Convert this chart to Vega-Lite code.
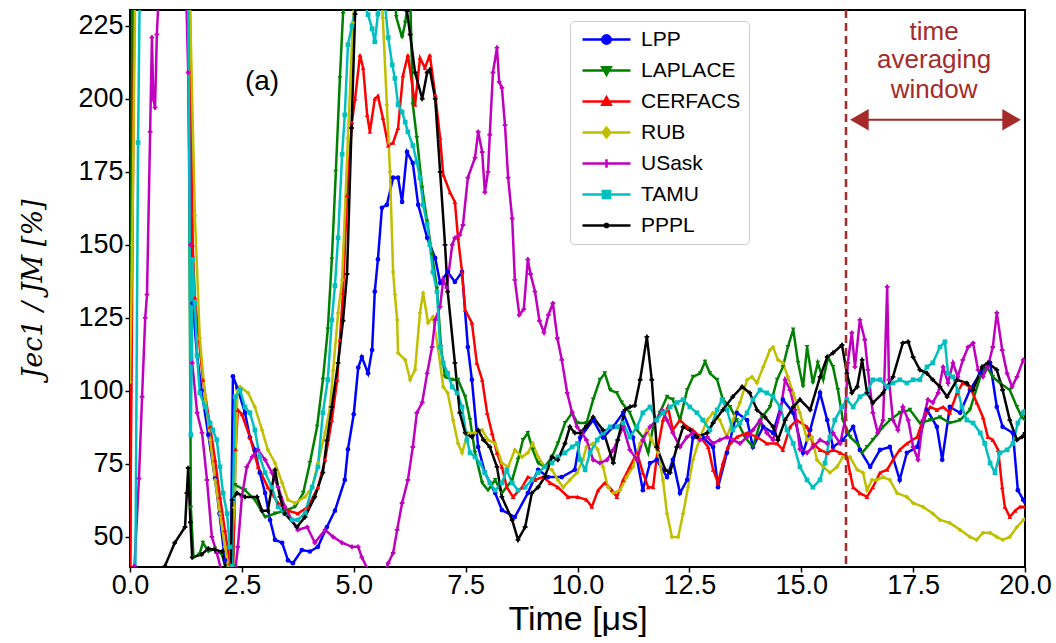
{
"$schema": "https://vega.github.io/schema/vega-lite/v6.json",
"width": 895, "height": 557,
"autosize": {"type": "none"},
"padding": {"left": 130, "top": 10, "right": 31, "bottom": 76},
"background": "white",
"config": {
  "font": "Liberation Sans",
  "view": {"stroke": "black", "strokeWidth": 2},
  "axis": {"labelFont": "Liberation Sans", "labelFontSize": 27, "labelColor": "black", "tickColor": "black", "tickSize": 5, "tickWidth": 1.5, "domain": false, "grid": false, "titleColor": "black", "labelPadding": 2}
},
"resolve": {"legend": {"color": "independent", "shape": "independent"}},
"datasets": {
"d": [
{"s":"LPP","x":0,"y":35},{"s":"LPP","x":0.07,"y":240},{"s":"LPP","x":1.33,"y":240},{"s":"LPP","x":1.4,"y":130},{"s":"LPP","x":1.5,"y":112},{"s":"LPP","x":1.6,"y":100},{"s":"LPP","x":1.75,"y":85},{"s":"LPP","x":1.9,"y":70},{"s":"LPP","x":2.0,"y":58},{"s":"LPP","x":2.12,"y":42},{"s":"LPP","x":2.25,"y":37},{"s":"LPP","x":2.3,"y":105},{"s":"LPP","x":2.4,"y":101},{"s":"LPP","x":2.57,"y":92.5},{"s":"LPP","x":2.68,"y":84},{"s":"LPP","x":2.79,"y":79.8},{"s":"LPP","x":2.9,"y":72},{"s":"LPP","x":3.02,"y":65},{"s":"LPP","x":3.13,"y":55.8},{"s":"LPP","x":3.24,"y":49},{"s":"LPP","x":3.4,"y":48},{"s":"LPP","x":3.53,"y":42},{"s":"LPP","x":3.64,"y":41},{"s":"LPP","x":3.84,"y":45.5},{"s":"LPP","x":4.02,"y":45},{"s":"LPP","x":4.2,"y":46.6},{"s":"LPP","x":4.4,"y":53.4},{"s":"LPP","x":4.58,"y":59},{"s":"LPP","x":4.8,"y":69.5},{"s":"LPP","x":4.87,"y":80},{"s":"LPP","x":5.0,"y":92},{"s":"LPP","x":5.1,"y":108},{"s":"LPP","x":5.18,"y":111.6},{"s":"LPP","x":5.32,"y":106},{"s":"LPP","x":5.41,"y":114},{"s":"LPP","x":5.47,"y":134},{"s":"LPP","x":5.54,"y":145},{"s":"LPP","x":5.63,"y":162.7},{"s":"LPP","x":5.74,"y":163.7},{"s":"LPP","x":5.88,"y":173},{"s":"LPP","x":5.99,"y":173},{"s":"LPP","x":6.08,"y":164.7},{"s":"LPP","x":6.19,"y":181.8},{"s":"LPP","x":6.32,"y":178},{"s":"LPP","x":6.44,"y":163.7},{"s":"LPP","x":6.64,"y":152.4},{"s":"LPP","x":6.82,"y":145.5},{"s":"LPP","x":6.93,"y":137},{"s":"LPP","x":7.1,"y":140.7},{"s":"LPP","x":7.26,"y":137.3},{"s":"LPP","x":7.42,"y":140.7},{"s":"LPP","x":7.55,"y":115},{"s":"LPP","x":7.64,"y":103.8},{"s":"LPP","x":7.78,"y":80.8},{"s":"LPP","x":7.93,"y":72},{"s":"LPP","x":8.16,"y":65},{"s":"LPP","x":8.31,"y":59.2},{"s":"LPP","x":8.6,"y":56.8},{"s":"LPP","x":8.89,"y":65},{"s":"LPP","x":9.12,"y":73},{"s":"LPP","x":9.34,"y":70.5},{"s":"LPP","x":9.65,"y":70.5},{"s":"LPP","x":9.94,"y":73},{"s":"LPP","x":10.06,"y":84},{"s":"LPP","x":10.35,"y":90},{"s":"LPP","x":10.57,"y":84},{"s":"LPP","x":10.8,"y":87.7},{"s":"LPP","x":11.02,"y":92.5},{"s":"LPP","x":11.24,"y":84},{"s":"LPP","x":11.46,"y":66},{"s":"LPP","x":11.62,"y":75.3},{"s":"LPP","x":11.77,"y":76.4},{"s":"LPP","x":12.0,"y":70.5},{"s":"LPP","x":12.13,"y":76.4},{"s":"LPP","x":12.29,"y":65},{"s":"LPP","x":12.45,"y":69.5},{"s":"LPP","x":12.58,"y":84},{"s":"LPP","x":12.8,"y":84},{"s":"LPP","x":13.03,"y":80.8},{"s":"LPP","x":13.14,"y":67},{"s":"LPP","x":13.34,"y":78.8},{"s":"LPP","x":13.56,"y":92.5},{"s":"LPP","x":13.79,"y":90},{"s":"LPP","x":13.92,"y":80.8},{"s":"LPP","x":14.15,"y":87.7},{"s":"LPP","x":14.37,"y":85.6},{"s":"LPP","x":14.59,"y":97},{"s":"LPP","x":14.82,"y":92.5},{"s":"LPP","x":15.04,"y":78.8},{"s":"LPP","x":15.2,"y":86.6},{"s":"LPP","x":15.42,"y":99.3},{"s":"LPP","x":15.58,"y":90},{"s":"LPP","x":15.71,"y":80.8},{"s":"LPP","x":15.93,"y":83.2},{"s":"LPP","x":16.16,"y":87.7},{"s":"LPP","x":16.31,"y":79.8},{"s":"LPP","x":16.54,"y":74},{"s":"LPP","x":16.76,"y":79.8},{"s":"LPP","x":16.98,"y":80.8},{"s":"LPP","x":17.2,"y":69.5},{"s":"LPP","x":17.36,"y":78.8},{"s":"LPP","x":17.59,"y":80.8},{"s":"LPP","x":17.81,"y":93.5},{"s":"LPP","x":18.03,"y":87.7},{"s":"LPP","x":18.15,"y":76.4},{"s":"LPP","x":18.32,"y":94.5},{"s":"LPP","x":18.55,"y":92.5},{"s":"LPP","x":18.77,"y":100.3},{"s":"LPP","x":19.0,"y":106},{"s":"LPP","x":19.22,"y":109.6},{"s":"LPP","x":19.37,"y":94.5},{"s":"LPP","x":19.5,"y":87.7},{"s":"LPP","x":19.73,"y":85.6},{"s":"LPP","x":19.84,"y":66},{"s":"LPP","x":19.96,"y":62.7},{"s":"LPP","x":20,"y":62},
{"s":"LAPLACE","x":0,"y":38},{"s":"LAPLACE","x":0.05,"y":240},{"s":"LAPLACE","x":1.3,"y":240},{"s":"LAPLACE","x":1.36,"y":60},{"s":"LAPLACE","x":1.42,"y":43},{"s":"LAPLACE","x":1.55,"y":44},{"s":"LAPLACE","x":1.63,"y":48},{"s":"LAPLACE","x":1.75,"y":45},{"s":"LAPLACE","x":1.9,"y":46},{"s":"LAPLACE","x":2.05,"y":44},{"s":"LAPLACE","x":2.2,"y":38},{"s":"LAPLACE","x":2.3,"y":40},{"s":"LAPLACE","x":2.35,"y":67.8},{"s":"LAPLACE","x":2.57,"y":66},{"s":"LAPLACE","x":2.79,"y":62.7},{"s":"LAPLACE","x":3.02,"y":56.8},{"s":"LAPLACE","x":3.24,"y":58},{"s":"LAPLACE","x":3.46,"y":59},{"s":"LAPLACE","x":3.69,"y":60.3},{"s":"LAPLACE","x":3.87,"y":65},{"s":"LAPLACE","x":4.02,"y":75.3},{"s":"LAPLACE","x":4.18,"y":87.7},{"s":"LAPLACE","x":4.31,"y":103.8},{"s":"LAPLACE","x":4.42,"y":121},{"s":"LAPLACE","x":4.51,"y":145},{"s":"LAPLACE","x":4.6,"y":175},{"s":"LAPLACE","x":4.69,"y":207},{"s":"LAPLACE","x":4.76,"y":229},{"s":"LAPLACE","x":4.85,"y":245},{"s":"LAPLACE","x":5.9,"y":240},{"s":"LAPLACE","x":5.95,"y":228},{"s":"LAPLACE","x":6.08,"y":221},{"s":"LAPLACE","x":6.15,"y":226},{"s":"LAPLACE","x":6.2,"y":232},{"s":"LAPLACE","x":6.27,"y":230},{"s":"LAPLACE","x":6.32,"y":198},{"s":"LAPLACE","x":6.41,"y":186.6},{"s":"LAPLACE","x":6.53,"y":169.5},{"s":"LAPLACE","x":6.64,"y":158},{"s":"LAPLACE","x":6.75,"y":146.6},{"s":"LAPLACE","x":6.86,"y":135},{"s":"LAPLACE","x":6.95,"y":115},{"s":"LAPLACE","x":7.04,"y":104.8},{"s":"LAPLACE","x":7.2,"y":103.8},{"s":"LAPLACE","x":7.33,"y":103.8},{"s":"LAPLACE","x":7.49,"y":98},{"s":"LAPLACE","x":7.6,"y":90},{"s":"LAPLACE","x":7.71,"y":78.8},{"s":"LAPLACE","x":7.87,"y":68.5},{"s":"LAPLACE","x":8.0,"y":66},{"s":"LAPLACE","x":8.16,"y":69.5},{"s":"LAPLACE","x":8.31,"y":65},{"s":"LAPLACE","x":8.54,"y":69.5},{"s":"LAPLACE","x":8.67,"y":76.4},{"s":"LAPLACE","x":8.78,"y":83.2},{"s":"LAPLACE","x":8.89,"y":85.6},{"s":"LAPLACE","x":9.0,"y":79.8},{"s":"LAPLACE","x":9.12,"y":75.3},{"s":"LAPLACE","x":9.27,"y":74},{"s":"LAPLACE","x":9.43,"y":77.4},{"s":"LAPLACE","x":9.56,"y":82},{"s":"LAPLACE","x":9.72,"y":89},{"s":"LAPLACE","x":9.88,"y":92.5},{"s":"LAPLACE","x":10.0,"y":89},{"s":"LAPLACE","x":10.2,"y":89},{"s":"LAPLACE","x":10.35,"y":97},{"s":"LAPLACE","x":10.5,"y":103.8},{"s":"LAPLACE","x":10.61,"y":106},{"s":"LAPLACE","x":10.73,"y":100.3},{"s":"LAPLACE","x":10.88,"y":99.3},{"s":"LAPLACE","x":10.99,"y":96},{"s":"LAPLACE","x":11.17,"y":92.5},{"s":"LAPLACE","x":11.33,"y":86.6},{"s":"LAPLACE","x":11.46,"y":84.2},{"s":"LAPLACE","x":11.58,"y":78.8},{"s":"LAPLACE","x":11.69,"y":87.7},{"s":"LAPLACE","x":11.84,"y":92.5},{"s":"LAPLACE","x":12.0,"y":98},{"s":"LAPLACE","x":12.13,"y":97},{"s":"LAPLACE","x":12.29,"y":90},{"s":"LAPLACE","x":12.45,"y":100.3},{"s":"LAPLACE","x":12.58,"y":104.8},{"s":"LAPLACE","x":12.74,"y":106},{"s":"LAPLACE","x":12.85,"y":110},{"s":"LAPLACE","x":12.96,"y":106},{"s":"LAPLACE","x":13.12,"y":103.8},{"s":"LAPLACE","x":13.25,"y":97},{"s":"LAPLACE","x":13.41,"y":94.5},{"s":"LAPLACE","x":13.56,"y":90},{"s":"LAPLACE","x":13.74,"y":84.2},{"s":"LAPLACE","x":13.92,"y":80.8},{"s":"LAPLACE","x":14.12,"y":91},{"s":"LAPLACE","x":14.3,"y":94.5},{"s":"LAPLACE","x":14.46,"y":103.8},{"s":"LAPLACE","x":14.59,"y":108.2},{"s":"LAPLACE","x":14.7,"y":115},{"s":"LAPLACE","x":14.82,"y":121},{"s":"LAPLACE","x":14.93,"y":109.6},{"s":"LAPLACE","x":15.04,"y":101.4},{"s":"LAPLACE","x":15.13,"y":115},{"s":"LAPLACE","x":15.26,"y":102.7},{"s":"LAPLACE","x":15.37,"y":109.6},{"s":"LAPLACE","x":15.49,"y":103.8},{"s":"LAPLACE","x":15.6,"y":111.6},{"s":"LAPLACE","x":15.71,"y":108.2},{"s":"LAPLACE","x":15.82,"y":100.3},{"s":"LAPLACE","x":15.93,"y":90},{"s":"LAPLACE","x":16.09,"y":84.2},{"s":"LAPLACE","x":16.25,"y":82},{"s":"LAPLACE","x":16.36,"y":78.8},{"s":"LAPLACE","x":16.47,"y":80.8},{"s":"LAPLACE","x":16.6,"y":83.2},{"s":"LAPLACE","x":16.83,"y":87.7},{"s":"LAPLACE","x":16.98,"y":90},{"s":"LAPLACE","x":17.2,"y":92.5},{"s":"LAPLACE","x":17.43,"y":93.5},{"s":"LAPLACE","x":17.65,"y":89},{"s":"LAPLACE","x":17.88,"y":90},{"s":"LAPLACE","x":18.1,"y":91},{"s":"LAPLACE","x":18.32,"y":89},{"s":"LAPLACE","x":18.55,"y":90},{"s":"LAPLACE","x":18.77,"y":93.5},{"s":"LAPLACE","x":19.0,"y":104.8},{"s":"LAPLACE","x":19.15,"y":108.2},{"s":"LAPLACE","x":19.28,"y":104.8},{"s":"LAPLACE","x":19.44,"y":102.7},{"s":"LAPLACE","x":19.66,"y":100.3},{"s":"LAPLACE","x":19.82,"y":94.5},{"s":"LAPLACE","x":19.93,"y":91},{"s":"LAPLACE","x":20,"y":90},
{"s":"CERFACS","x":0,"y":38},{"s":"CERFACS","x":0.1,"y":240},{"s":"CERFACS","x":1.33,"y":240},{"s":"CERFACS","x":1.4,"y":150},{"s":"CERFACS","x":1.45,"y":132},{"s":"CERFACS","x":1.63,"y":103.8},{"s":"CERFACS","x":1.79,"y":87.7},{"s":"CERFACS","x":1.9,"y":76.4},{"s":"CERFACS","x":2.01,"y":63.7},{"s":"CERFACS","x":2.12,"y":52.4},{"s":"CERFACS","x":2.23,"y":41},{"s":"CERFACS","x":2.3,"y":38},{"s":"CERFACS","x":2.36,"y":80},{"s":"CERFACS","x":2.41,"y":93.5},{"s":"CERFACS","x":2.5,"y":92},{"s":"CERFACS","x":2.68,"y":84.2},{"s":"CERFACS","x":2.86,"y":74},{"s":"CERFACS","x":3.08,"y":67},{"s":"CERFACS","x":3.31,"y":61.6},{"s":"CERFACS","x":3.53,"y":59},{"s":"CERFACS","x":3.75,"y":58},{"s":"CERFACS","x":3.98,"y":60.3},{"s":"CERFACS","x":4.2,"y":67},{"s":"CERFACS","x":4.36,"y":76.4},{"s":"CERFACS","x":4.51,"y":90},{"s":"CERFACS","x":4.63,"y":103.8},{"s":"CERFACS","x":4.69,"y":117.5},{"s":"CERFACS","x":4.76,"y":133.6},{"s":"CERFACS","x":4.85,"y":167},{"s":"CERFACS","x":4.96,"y":192},{"s":"CERFACS","x":5.03,"y":200},{"s":"CERFACS","x":5.14,"y":215},{"s":"CERFACS","x":5.21,"y":210.6},{"s":"CERFACS","x":5.3,"y":194.5},{"s":"CERFACS","x":5.36,"y":188.7},{"s":"CERFACS","x":5.47,"y":200},{"s":"CERFACS","x":5.54,"y":201},{"s":"CERFACS","x":5.65,"y":193.5},{"s":"CERFACS","x":5.77,"y":184},{"s":"CERFACS","x":5.88,"y":185},{"s":"CERFACS","x":5.99,"y":190},{"s":"CERFACS","x":6.1,"y":208},{"s":"CERFACS","x":6.21,"y":215},{"s":"CERFACS","x":6.37,"y":198},{"s":"CERFACS","x":6.48,"y":214},{"s":"CERFACS","x":6.59,"y":210.6},{"s":"CERFACS","x":6.7,"y":215},{"s":"CERFACS","x":6.82,"y":201.4},{"s":"CERFACS","x":6.93,"y":186.6},{"s":"CERFACS","x":7.0,"y":174},{"s":"CERFACS","x":7.15,"y":168},{"s":"CERFACS","x":7.26,"y":164.7},{"s":"CERFACS","x":7.33,"y":152.4},{"s":"CERFACS","x":7.42,"y":140.7},{"s":"CERFACS","x":7.49,"y":127.7},{"s":"CERFACS","x":7.64,"y":123.3},{"s":"CERFACS","x":7.75,"y":109.6},{"s":"CERFACS","x":7.87,"y":103.8},{"s":"CERFACS","x":7.98,"y":92.5},{"s":"CERFACS","x":8.09,"y":85.6},{"s":"CERFACS","x":8.2,"y":78.8},{"s":"CERFACS","x":8.31,"y":74},{"s":"CERFACS","x":8.42,"y":67},{"s":"CERFACS","x":8.56,"y":63.7},{"s":"CERFACS","x":8.76,"y":67},{"s":"CERFACS","x":8.89,"y":70.5},{"s":"CERFACS","x":9.05,"y":69.5},{"s":"CERFACS","x":9.23,"y":70.5},{"s":"CERFACS","x":9.39,"y":68.5},{"s":"CERFACS","x":9.56,"y":67},{"s":"CERFACS","x":9.79,"y":63.7},{"s":"CERFACS","x":10.0,"y":63.7},{"s":"CERFACS","x":10.2,"y":62.7},{"s":"CERFACS","x":10.32,"y":60.3},{"s":"CERFACS","x":10.46,"y":66},{"s":"CERFACS","x":10.61,"y":68.5},{"s":"CERFACS","x":10.77,"y":66},{"s":"CERFACS","x":10.88,"y":63.7},{"s":"CERFACS","x":11.02,"y":69.5},{"s":"CERFACS","x":11.17,"y":74},{"s":"CERFACS","x":11.33,"y":78.8},{"s":"CERFACS","x":11.46,"y":72},{"s":"CERFACS","x":11.58,"y":67},{"s":"CERFACS","x":11.69,"y":67},{"s":"CERFACS","x":11.8,"y":80.8},{"s":"CERFACS","x":11.91,"y":90},{"s":"CERFACS","x":12.02,"y":94.5},{"s":"CERFACS","x":12.13,"y":86.6},{"s":"CERFACS","x":12.29,"y":90},{"s":"CERFACS","x":12.45,"y":87.7},{"s":"CERFACS","x":12.58,"y":86.6},{"s":"CERFACS","x":12.74,"y":84.2},{"s":"CERFACS","x":12.92,"y":80.8},{"s":"CERFACS","x":13.03,"y":73},{"s":"CERFACS","x":13.14,"y":68.5},{"s":"CERFACS","x":13.25,"y":75.3},{"s":"CERFACS","x":13.36,"y":80.8},{"s":"CERFACS","x":13.56,"y":84.2},{"s":"CERFACS","x":13.79,"y":85.6},{"s":"CERFACS","x":14.01,"y":84.2},{"s":"CERFACS","x":14.23,"y":82},{"s":"CERFACS","x":14.46,"y":82},{"s":"CERFACS","x":14.59,"y":79.8},{"s":"CERFACS","x":14.75,"y":87.7},{"s":"CERFACS","x":14.9,"y":90},{"s":"CERFACS","x":15.13,"y":87.7},{"s":"CERFACS","x":15.26,"y":82},{"s":"CERFACS","x":15.42,"y":79.8},{"s":"CERFACS","x":15.58,"y":78.8},{"s":"CERFACS","x":15.71,"y":79.8},{"s":"CERFACS","x":15.87,"y":78.8},{"s":"CERFACS","x":16.02,"y":77.4},{"s":"CERFACS","x":16.09,"y":72},{"s":"CERFACS","x":16.16,"y":67},{"s":"CERFACS","x":16.31,"y":65},{"s":"CERFACS","x":16.47,"y":63.7},{"s":"CERFACS","x":16.6,"y":67},{"s":"CERFACS","x":16.76,"y":72},{"s":"CERFACS","x":16.92,"y":73},{"s":"CERFACS","x":17.05,"y":76.4},{"s":"CERFACS","x":17.2,"y":79.8},{"s":"CERFACS","x":17.36,"y":82},{"s":"CERFACS","x":17.59,"y":84.2},{"s":"CERFACS","x":17.72,"y":90},{"s":"CERFACS","x":17.88,"y":94.5},{"s":"CERFACS","x":18.03,"y":93.5},{"s":"CERFACS","x":18.17,"y":94.5},{"s":"CERFACS","x":18.32,"y":92.5},{"s":"CERFACS","x":18.48,"y":99.3},{"s":"CERFACS","x":18.61,"y":102.7},{"s":"CERFACS","x":18.77,"y":101.4},{"s":"CERFACS","x":18.92,"y":96},{"s":"CERFACS","x":19.06,"y":91},{"s":"CERFACS","x":19.17,"y":84.2},{"s":"CERFACS","x":19.28,"y":83.2},{"s":"CERFACS","x":19.4,"y":79.8},{"s":"CERFACS","x":19.49,"y":67},{"s":"CERFACS","x":19.55,"y":60.3},{"s":"CERFACS","x":19.66,"y":56.8},{"s":"CERFACS","x":19.78,"y":59},{"s":"CERFACS","x":19.89,"y":60.3},{"s":"CERFACS","x":20,"y":60.3},
{"s":"RUB","x":0,"y":103},{"s":"RUB","x":0.05,"y":150},{"s":"RUB","x":0.12,"y":240},{"s":"RUB","x":1.33,"y":240},{"s":"RUB","x":1.45,"y":160},{"s":"RUB","x":1.56,"y":118},{"s":"RUB","x":1.68,"y":98},{"s":"RUB","x":1.79,"y":83.2},{"s":"RUB","x":1.9,"y":69.5},{"s":"RUB","x":2.01,"y":58},{"s":"RUB","x":2.12,"y":46.6},{"s":"RUB","x":2.22,"y":38},{"s":"RUB","x":2.33,"y":60},{"s":"RUB","x":2.4,"y":100},{"s":"RUB","x":2.46,"y":101.4},{"s":"RUB","x":2.64,"y":99.3},{"s":"RUB","x":2.79,"y":94.5},{"s":"RUB","x":2.95,"y":86.6},{"s":"RUB","x":3.08,"y":79.8},{"s":"RUB","x":3.24,"y":75.3},{"s":"RUB","x":3.4,"y":68.5},{"s":"RUB","x":3.53,"y":62.7},{"s":"RUB","x":3.69,"y":61.6},{"s":"RUB","x":3.91,"y":63.7},{"s":"RUB","x":4.07,"y":67},{"s":"RUB","x":4.2,"y":75.3},{"s":"RUB","x":4.36,"y":85.6},{"s":"RUB","x":4.47,"y":94.5},{"s":"RUB","x":4.54,"y":107},{"s":"RUB","x":4.65,"y":126.7},{"s":"RUB","x":4.74,"y":138},{"s":"RUB","x":4.87,"y":186.6},{"s":"RUB","x":4.98,"y":226},{"s":"RUB","x":5.05,"y":240},{"s":"RUB","x":5.6,"y":240},{"s":"RUB","x":5.65,"y":227.7},{"s":"RUB","x":5.74,"y":198},{"s":"RUB","x":5.81,"y":175},{"s":"RUB","x":5.88,"y":140.7},{"s":"RUB","x":5.92,"y":133},{"s":"RUB","x":5.97,"y":124.3},{"s":"RUB","x":5.99,"y":113},{"s":"RUB","x":6.15,"y":110.6},{"s":"RUB","x":6.26,"y":103.8},{"s":"RUB","x":6.37,"y":107.2},{"s":"RUB","x":6.48,"y":126.7},{"s":"RUB","x":6.55,"y":133.6},{"s":"RUB","x":6.66,"y":123.3},{"s":"RUB","x":6.77,"y":125.3},{"s":"RUB","x":6.88,"y":115},{"s":"RUB","x":7.0,"y":101.4},{"s":"RUB","x":7.1,"y":99.3},{"s":"RUB","x":7.22,"y":90},{"s":"RUB","x":7.33,"y":82},{"s":"RUB","x":7.42,"y":78.8},{"s":"RUB","x":7.55,"y":85.6},{"s":"RUB","x":7.71,"y":85.6},{"s":"RUB","x":7.87,"y":86.6},{"s":"RUB","x":8.0,"y":83.2},{"s":"RUB","x":8.16,"y":82},{"s":"RUB","x":8.31,"y":75.3},{"s":"RUB","x":8.45,"y":74},{"s":"RUB","x":8.6,"y":79.8},{"s":"RUB","x":8.76,"y":77.4},{"s":"RUB","x":8.89,"y":78.8},{"s":"RUB","x":9.0,"y":82},{"s":"RUB","x":9.12,"y":77.4},{"s":"RUB","x":9.27,"y":74},{"s":"RUB","x":9.43,"y":73},{"s":"RUB","x":9.56,"y":69.5},{"s":"RUB","x":9.68,"y":67},{"s":"RUB","x":9.83,"y":69.5},{"s":"RUB","x":9.99,"y":72},{"s":"RUB","x":10.12,"y":76.4},{"s":"RUB","x":10.2,"y":80.8},{"s":"RUB","x":10.35,"y":82},{"s":"RUB","x":10.45,"y":80},{"s":"RUB","x":10.57,"y":74},{"s":"RUB","x":10.68,"y":67},{"s":"RUB","x":10.8,"y":65},{"s":"RUB","x":10.95,"y":66},{"s":"RUB","x":11.1,"y":70.5},{"s":"RUB","x":11.24,"y":74},{"s":"RUB","x":11.4,"y":82},{"s":"RUB","x":11.55,"y":86.6},{"s":"RUB","x":11.66,"y":83.2},{"s":"RUB","x":11.8,"y":78.8},{"s":"RUB","x":11.91,"y":69.5},{"s":"RUB","x":12.0,"y":58},{"s":"RUB","x":12.11,"y":50},{"s":"RUB","x":12.25,"y":50},{"s":"RUB","x":12.36,"y":58},{"s":"RUB","x":12.47,"y":67},{"s":"RUB","x":12.58,"y":76.4},{"s":"RUB","x":12.74,"y":84.2},{"s":"RUB","x":12.9,"y":90},{"s":"RUB","x":13.03,"y":92.5},{"s":"RUB","x":13.18,"y":90},{"s":"RUB","x":13.34,"y":84.2},{"s":"RUB","x":13.47,"y":90},{"s":"RUB","x":13.63,"y":96},{"s":"RUB","x":13.79,"y":103.8},{"s":"RUB","x":13.9,"y":104.8},{"s":"RUB","x":14.01,"y":102.7},{"s":"RUB","x":14.15,"y":108.2},{"s":"RUB","x":14.3,"y":114},{"s":"RUB","x":14.37,"y":115},{"s":"RUB","x":14.48,"y":110.6},{"s":"RUB","x":14.59,"y":109.6},{"s":"RUB","x":14.7,"y":104.8},{"s":"RUB","x":14.82,"y":99.3},{"s":"RUB","x":14.97,"y":92.5},{"s":"RUB","x":15.13,"y":83.2},{"s":"RUB","x":15.24,"y":84.2},{"s":"RUB","x":15.35,"y":76.4},{"s":"RUB","x":15.49,"y":74},{"s":"RUB","x":15.64,"y":72},{"s":"RUB","x":15.8,"y":74},{"s":"RUB","x":15.93,"y":77.4},{"s":"RUB","x":16.09,"y":77.4},{"s":"RUB","x":16.25,"y":73},{"s":"RUB","x":16.38,"y":72},{"s":"RUB","x":16.47,"y":66},{"s":"RUB","x":16.58,"y":69.5},{"s":"RUB","x":16.69,"y":69.5},{"s":"RUB","x":16.83,"y":70.5},{"s":"RUB","x":16.98,"y":69.5},{"s":"RUB","x":17.14,"y":65},{"s":"RUB","x":17.36,"y":63.7},{"s":"RUB","x":17.5,"y":61.6},{"s":"RUB","x":17.72,"y":60.3},{"s":"RUB","x":17.94,"y":58},{"s":"RUB","x":18.1,"y":55.8},{"s":"RUB","x":18.32,"y":54.8},{"s":"RUB","x":18.55,"y":52.4},{"s":"RUB","x":18.77,"y":50},{"s":"RUB","x":18.92,"y":49},{"s":"RUB","x":19.06,"y":51.4},{"s":"RUB","x":19.22,"y":51.4},{"s":"RUB","x":19.37,"y":50},{"s":"RUB","x":19.5,"y":49},{"s":"RUB","x":19.66,"y":50},{"s":"RUB","x":19.82,"y":53.4},{"s":"RUB","x":19.96,"y":55.8},{"s":"RUB","x":20,"y":56},
{"s":"USask","x":0,"y":35},{"s":"USask","x":0.1,"y":40},{"s":"USask","x":0.2,"y":70},{"s":"USask","x":0.27,"y":98},{"s":"USask","x":0.34,"y":125},{"s":"USask","x":0.38,"y":133},{"s":"USask","x":0.45,"y":188.7},{"s":"USask","x":0.49,"y":221},{"s":"USask","x":0.52,"y":200},{"s":"USask","x":0.56,"y":197},{"s":"USask","x":0.6,"y":222},{"s":"USask","x":0.64,"y":235},{"s":"USask","x":0.7,"y":240},{"s":"USask","x":1.25,"y":240},{"s":"USask","x":1.3,"y":209},{"s":"USask","x":1.35,"y":150},{"s":"USask","x":1.39,"y":109.6},{"s":"USask","x":1.5,"y":92.5},{"s":"USask","x":1.61,"y":85.6},{"s":"USask","x":1.72,"y":69.5},{"s":"USask","x":1.83,"y":50},{"s":"USask","x":1.94,"y":44.5},{"s":"USask","x":2.05,"y":38},{"s":"USask","x":2.35,"y":38},{"s":"USask","x":2.41,"y":46.6},{"s":"USask","x":2.5,"y":63.7},{"s":"USask","x":2.61,"y":74},{"s":"USask","x":2.73,"y":77.4},{"s":"USask","x":2.86,"y":79.8},{"s":"USask","x":3.02,"y":76.4},{"s":"USask","x":3.17,"y":72},{"s":"USask","x":3.31,"y":67},{"s":"USask","x":3.46,"y":60.3},{"s":"USask","x":3.62,"y":55.8},{"s":"USask","x":3.75,"y":52.4},{"s":"USask","x":3.96,"y":53.4},{"s":"USask","x":4.13,"y":48},{"s":"USask","x":4.36,"y":52.4},{"s":"USask","x":4.54,"y":50},{"s":"USask","x":4.74,"y":48},{"s":"USask","x":4.96,"y":46.6},{"s":"USask","x":5.1,"y":46.6},{"s":"USask","x":5.18,"y":43},{"s":"USask","x":5.32,"y":38.7},{"s":"USask","x":5.5,"y":37},{"s":"USask","x":5.7,"y":38},{"s":"USask","x":5.77,"y":41},{"s":"USask","x":5.88,"y":44.5},{"s":"USask","x":5.97,"y":52.4},{"s":"USask","x":6.08,"y":61.6},{"s":"USask","x":6.21,"y":69.5},{"s":"USask","x":6.32,"y":80.8},{"s":"USask","x":6.41,"y":92.5},{"s":"USask","x":6.53,"y":96},{"s":"USask","x":6.64,"y":106},{"s":"USask","x":6.75,"y":115},{"s":"USask","x":6.82,"y":124.3},{"s":"USask","x":6.93,"y":128.8},{"s":"USask","x":7.0,"y":138},{"s":"USask","x":7.08,"y":135.3},{"s":"USask","x":7.2,"y":150},{"s":"USask","x":7.26,"y":152.4},{"s":"USask","x":7.37,"y":153.4},{"s":"USask","x":7.44,"y":156.8},{"s":"USask","x":7.55,"y":173},{"s":"USask","x":7.71,"y":179.8},{"s":"USask","x":7.78,"y":188.7},{"s":"USask","x":7.87,"y":181.8},{"s":"USask","x":7.93,"y":168},{"s":"USask","x":8.0,"y":175},{"s":"USask","x":8.04,"y":187.7},{"s":"USask","x":8.11,"y":209},{"s":"USask","x":8.2,"y":217.5},{"s":"USask","x":8.25,"y":205.8},{"s":"USask","x":8.31,"y":203.8},{"s":"USask","x":8.38,"y":191},{"s":"USask","x":8.45,"y":173},{"s":"USask","x":8.54,"y":159},{"s":"USask","x":8.6,"y":138},{"s":"USask","x":8.7,"y":126},{"s":"USask","x":8.8,"y":128},{"s":"USask","x":8.89,"y":145},{"s":"USask","x":8.95,"y":140},{"s":"USask","x":9.05,"y":134},{"s":"USask","x":9.15,"y":124},{"s":"USask","x":9.25,"y":120},{"s":"USask","x":9.35,"y":126},{"s":"USask","x":9.45,"y":130},{"s":"USask","x":9.55,"y":118},{"s":"USask","x":9.65,"y":110.6},{"s":"USask","x":9.77,"y":99.3},{"s":"USask","x":9.88,"y":92.5},{"s":"USask","x":9.99,"y":87.7},{"s":"USask","x":10.1,"y":85.6},{"s":"USask","x":10.2,"y":83.2},{"s":"USask","x":10.35,"y":76.4},{"s":"USask","x":10.5,"y":75.3},{"s":"USask","x":10.66,"y":76.4},{"s":"USask","x":10.8,"y":79.8},{"s":"USask","x":11.02,"y":87.7},{"s":"USask","x":11.17,"y":79.8},{"s":"USask","x":11.33,"y":76.4},{"s":"USask","x":11.46,"y":83.2},{"s":"USask","x":11.62,"y":87.7},{"s":"USask","x":11.77,"y":90},{"s":"USask","x":11.89,"y":93.5},{"s":"USask","x":12.0,"y":90},{"s":"USask","x":12.13,"y":85.6},{"s":"USask","x":12.29,"y":80.8},{"s":"USask","x":12.45,"y":84.2},{"s":"USask","x":12.58,"y":85.6},{"s":"USask","x":12.74,"y":83.2},{"s":"USask","x":12.9,"y":84.2},{"s":"USask","x":13.03,"y":82},{"s":"USask","x":13.18,"y":83.2},{"s":"USask","x":13.34,"y":84.2},{"s":"USask","x":13.47,"y":83.2},{"s":"USask","x":13.63,"y":82},{"s":"USask","x":13.79,"y":84.2},{"s":"USask","x":13.92,"y":86.6},{"s":"USask","x":14.08,"y":90},{"s":"USask","x":14.23,"y":85.6},{"s":"USask","x":14.37,"y":83.2},{"s":"USask","x":14.53,"y":92.5},{"s":"USask","x":14.64,"y":103.8},{"s":"USask","x":14.75,"y":100.3},{"s":"USask","x":14.86,"y":93.5},{"s":"USask","x":14.97,"y":80},{"s":"USask","x":15.13,"y":78.8},{"s":"USask","x":15.26,"y":80.8},{"s":"USask","x":15.42,"y":83.2},{"s":"USask","x":15.58,"y":82},{"s":"USask","x":15.71,"y":85.6},{"s":"USask","x":15.87,"y":82},{"s":"USask","x":15.98,"y":90},{"s":"USask","x":16.04,"y":109.6},{"s":"USask","x":16.13,"y":119.9},{"s":"USask","x":16.2,"y":108.2},{"s":"USask","x":16.31,"y":124.3},{"s":"USask","x":16.42,"y":117.5},{"s":"USask","x":16.49,"y":107.2},{"s":"USask","x":16.6,"y":92.5},{"s":"USask","x":16.71,"y":85.6},{"s":"USask","x":16.83,"y":90},{"s":"USask","x":16.92,"y":135.6},{"s":"USask","x":16.96,"y":103.8},{"s":"USask","x":17.05,"y":90},{"s":"USask","x":17.16,"y":86.6},{"s":"USask","x":17.27,"y":94.5},{"s":"USask","x":17.39,"y":90},{"s":"USask","x":17.5,"y":80.8},{"s":"USask","x":17.61,"y":76.4},{"s":"USask","x":17.72,"y":90},{"s":"USask","x":17.83,"y":97},{"s":"USask","x":17.94,"y":96},{"s":"USask","x":18.06,"y":99.3},{"s":"USask","x":18.17,"y":108.2},{"s":"USask","x":18.28,"y":102.7},{"s":"USask","x":18.39,"y":109.6},{"s":"USask","x":18.5,"y":104.8},{"s":"USask","x":18.61,"y":110.6},{"s":"USask","x":18.73,"y":115},{"s":"USask","x":18.84,"y":116.4},{"s":"USask","x":18.95,"y":107.2},{"s":"USask","x":19.06,"y":104.8},{"s":"USask","x":19.17,"y":108.2},{"s":"USask","x":19.28,"y":115},{"s":"USask","x":19.37,"y":126.7},{"s":"USask","x":19.49,"y":114},{"s":"USask","x":19.6,"y":106},{"s":"USask","x":19.71,"y":101.4},{"s":"USask","x":19.82,"y":104.8},{"s":"USask","x":19.96,"y":110.6},{"s":"USask","x":20,"y":110},
{"s":"TAMU","x":0,"y":35},{"s":"TAMU","x":0.12,"y":38},{"s":"TAMU","x":0.18,"y":185},{"s":"TAMU","x":0.22,"y":240},{"s":"TAMU","x":1.3,"y":240},{"s":"TAMU","x":1.36,"y":85},{"s":"TAMU","x":1.4,"y":145},{"s":"TAMU","x":1.45,"y":130},{"s":"TAMU","x":1.5,"y":112},{"s":"TAMU","x":1.56,"y":99.3},{"s":"TAMU","x":1.68,"y":94.5},{"s":"TAMU","x":1.79,"y":89},{"s":"TAMU","x":1.85,"y":86.6},{"s":"TAMU","x":1.94,"y":83.2},{"s":"TAMU","x":2.01,"y":74},{"s":"TAMU","x":2.08,"y":65},{"s":"TAMU","x":2.17,"y":58},{"s":"TAMU","x":2.23,"y":46.6},{"s":"TAMU","x":2.28,"y":40},{"s":"TAMU","x":2.3,"y":62.7},{"s":"TAMU","x":2.35,"y":98},{"s":"TAMU","x":2.46,"y":100.3},{"s":"TAMU","x":2.57,"y":94.5},{"s":"TAMU","x":2.68,"y":92.5},{"s":"TAMU","x":2.79,"y":86.6},{"s":"TAMU","x":2.9,"y":77.4},{"s":"TAMU","x":3.02,"y":72},{"s":"TAMU","x":3.17,"y":67},{"s":"TAMU","x":3.31,"y":60.3},{"s":"TAMU","x":3.46,"y":58},{"s":"TAMU","x":3.62,"y":55.8},{"s":"TAMU","x":3.75,"y":55.8},{"s":"TAMU","x":3.91,"y":58},{"s":"TAMU","x":4.07,"y":67},{"s":"TAMU","x":4.2,"y":74},{"s":"TAMU","x":4.31,"y":92.5},{"s":"TAMU","x":4.42,"y":103.8},{"s":"TAMU","x":4.51,"y":124.3},{"s":"TAMU","x":4.58,"y":136},{"s":"TAMU","x":4.65,"y":152.4},{"s":"TAMU","x":4.74,"y":181},{"s":"TAMU","x":4.8,"y":194.5},{"s":"TAMU","x":4.87,"y":218.5},{"s":"TAMU","x":4.96,"y":225},{"s":"TAMU","x":5.05,"y":232},{"s":"TAMU","x":5.25,"y":232},{"s":"TAMU","x":5.32,"y":228.8},{"s":"TAMU","x":5.41,"y":224},{"s":"TAMU","x":5.47,"y":219.5},{"s":"TAMU","x":5.54,"y":229},{"s":"TAMU","x":5.6,"y":235},{"s":"TAMU","x":5.7,"y":232},{"s":"TAMU","x":5.77,"y":221},{"s":"TAMU","x":5.86,"y":211.6},{"s":"TAMU","x":5.92,"y":207},{"s":"TAMU","x":5.99,"y":198},{"s":"TAMU","x":6.08,"y":195.5},{"s":"TAMU","x":6.15,"y":192},{"s":"TAMU","x":6.21,"y":188.7},{"s":"TAMU","x":6.32,"y":184},{"s":"TAMU","x":6.41,"y":178.4},{"s":"TAMU","x":6.48,"y":173},{"s":"TAMU","x":6.55,"y":163.7},{"s":"TAMU","x":6.64,"y":157},{"s":"TAMU","x":6.7,"y":150},{"s":"TAMU","x":6.77,"y":140.7},{"s":"TAMU","x":6.86,"y":134},{"s":"TAMU","x":6.93,"y":115},{"s":"TAMU","x":7.0,"y":109.6},{"s":"TAMU","x":7.1,"y":106},{"s":"TAMU","x":7.2,"y":101.4},{"s":"TAMU","x":7.31,"y":99.3},{"s":"TAMU","x":7.42,"y":94.5},{"s":"TAMU","x":7.53,"y":83.2},{"s":"TAMU","x":7.6,"y":78.8},{"s":"TAMU","x":7.71,"y":77.4},{"s":"TAMU","x":7.82,"y":75.3},{"s":"TAMU","x":7.93,"y":72},{"s":"TAMU","x":8.04,"y":68.5},{"s":"TAMU","x":8.16,"y":66},{"s":"TAMU","x":8.31,"y":68.5},{"s":"TAMU","x":8.42,"y":73},{"s":"TAMU","x":8.54,"y":68.5},{"s":"TAMU","x":8.67,"y":66},{"s":"TAMU","x":8.83,"y":67},{"s":"TAMU","x":8.98,"y":69.5},{"s":"TAMU","x":9.12,"y":72},{"s":"TAMU","x":9.27,"y":74},{"s":"TAMU","x":9.43,"y":75.3},{"s":"TAMU","x":9.56,"y":77.4},{"s":"TAMU","x":9.72,"y":78.8},{"s":"TAMU","x":9.88,"y":80.8},{"s":"TAMU","x":10.0,"y":82},{"s":"TAMU","x":10.06,"y":76.4},{"s":"TAMU","x":10.17,"y":73},{"s":"TAMU","x":10.28,"y":78.8},{"s":"TAMU","x":10.44,"y":83.2},{"s":"TAMU","x":10.57,"y":85.6},{"s":"TAMU","x":10.73,"y":87.7},{"s":"TAMU","x":10.88,"y":87.7},{"s":"TAMU","x":11.02,"y":89},{"s":"TAMU","x":11.17,"y":84.2},{"s":"TAMU","x":11.33,"y":87.7},{"s":"TAMU","x":11.46,"y":92.5},{"s":"TAMU","x":11.62,"y":94.5},{"s":"TAMU","x":11.77,"y":90},{"s":"TAMU","x":11.91,"y":92.5},{"s":"TAMU","x":12.07,"y":94.5},{"s":"TAMU","x":12.22,"y":96},{"s":"TAMU","x":12.36,"y":97},{"s":"TAMU","x":12.51,"y":94.5},{"s":"TAMU","x":12.67,"y":92.5},{"s":"TAMU","x":12.8,"y":90},{"s":"TAMU","x":12.96,"y":86.6},{"s":"TAMU","x":13.12,"y":93.5},{"s":"TAMU","x":13.23,"y":97},{"s":"TAMU","x":13.34,"y":93.5},{"s":"TAMU","x":13.47,"y":86.6},{"s":"TAMU","x":13.63,"y":89},{"s":"TAMU","x":13.79,"y":92.5},{"s":"TAMU","x":13.92,"y":97},{"s":"TAMU","x":14.08,"y":100.3},{"s":"TAMU","x":14.23,"y":99.3},{"s":"TAMU","x":14.37,"y":98},{"s":"TAMU","x":14.53,"y":94.5},{"s":"TAMU","x":14.68,"y":86.6},{"s":"TAMU","x":14.82,"y":82},{"s":"TAMU","x":14.97,"y":74},{"s":"TAMU","x":15.13,"y":69.5},{"s":"TAMU","x":15.26,"y":67},{"s":"TAMU","x":15.42,"y":69.5},{"s":"TAMU","x":15.53,"y":75.3},{"s":"TAMU","x":15.64,"y":84.2},{"s":"TAMU","x":15.75,"y":90},{"s":"TAMU","x":15.91,"y":94.5},{"s":"TAMU","x":16.02,"y":97},{"s":"TAMU","x":16.16,"y":94.5},{"s":"TAMU","x":16.31,"y":98},{"s":"TAMU","x":16.47,"y":99.3},{"s":"TAMU","x":16.6,"y":103.8},{"s":"TAMU","x":16.76,"y":103.8},{"s":"TAMU","x":16.92,"y":101.4},{"s":"TAMU","x":17.05,"y":102.7},{"s":"TAMU","x":17.2,"y":103.8},{"s":"TAMU","x":17.36,"y":102.7},{"s":"TAMU","x":17.5,"y":103.8},{"s":"TAMU","x":17.65,"y":103.8},{"s":"TAMU","x":17.81,"y":108.2},{"s":"TAMU","x":17.94,"y":109.6},{"s":"TAMU","x":18.1,"y":115},{"s":"TAMU","x":18.21,"y":116.8},{"s":"TAMU","x":18.28,"y":106},{"s":"TAMU","x":18.39,"y":104.8},{"s":"TAMU","x":18.5,"y":100},{"s":"TAMU","x":18.59,"y":94.5},{"s":"TAMU","x":18.7,"y":90},{"s":"TAMU","x":18.84,"y":89},{"s":"TAMU","x":19.0,"y":85.6},{"s":"TAMU","x":19.1,"y":82},{"s":"TAMU","x":19.22,"y":75.3},{"s":"TAMU","x":19.33,"y":72},{"s":"TAMU","x":19.44,"y":78.8},{"s":"TAMU","x":19.6,"y":79.8},{"s":"TAMU","x":19.73,"y":82},{"s":"TAMU","x":19.84,"y":89},{"s":"TAMU","x":19.96,"y":92.5},{"s":"TAMU","x":20,"y":93},
{"s":"PPPL","x":0,"y":35},{"s":"PPPL","x":0.75,"y":38},{"s":"PPPL","x":0.78,"y":40},{"s":"PPPL","x":1.0,"y":48},{"s":"PPPL","x":1.23,"y":53.4},{"s":"PPPL","x":1.27,"y":65},{"s":"PPPL","x":1.3,"y":73.6},{"s":"PPPL","x":1.35,"y":55},{"s":"PPPL","x":1.39,"y":43},{"s":"PPPL","x":1.6,"y":44},{"s":"PPPL","x":1.75,"y":46},{"s":"PPPL","x":1.9,"y":45.5},{"s":"PPPL","x":2.06,"y":45},{"s":"PPPL","x":2.15,"y":38},{"s":"PPPL","x":2.25,"y":38},{"s":"PPPL","x":2.28,"y":62.7},{"s":"PPPL","x":2.39,"y":65},{"s":"PPPL","x":2.57,"y":63.7},{"s":"PPPL","x":2.84,"y":63.7},{"s":"PPPL","x":2.95,"y":59},{"s":"PPPL","x":3.08,"y":59},{"s":"PPPL","x":3.24,"y":73},{"s":"PPPL","x":3.35,"y":63.7},{"s":"PPPL","x":3.46,"y":58},{"s":"PPPL","x":3.73,"y":53.4},{"s":"PPPL","x":3.91,"y":56.8},{"s":"PPPL","x":4.13,"y":63.7},{"s":"PPPL","x":4.31,"y":72},{"s":"PPPL","x":4.4,"y":83},{"s":"PPPL","x":4.51,"y":94.5},{"s":"PPPL","x":4.65,"y":109.6},{"s":"PPPL","x":4.76,"y":124},{"s":"PPPL","x":4.85,"y":140},{"s":"PPPL","x":4.95,"y":190},{"s":"PPPL","x":5.03,"y":229},{"s":"PPPL","x":5.1,"y":240},{"s":"PPPL","x":6.1,"y":240},{"s":"PPPL","x":6.19,"y":230},{"s":"PPPL","x":6.26,"y":222},{"s":"PPPL","x":6.37,"y":209},{"s":"PPPL","x":6.53,"y":200},{"s":"PPPL","x":6.64,"y":209},{"s":"PPPL","x":6.7,"y":210},{"s":"PPPL","x":6.82,"y":200},{"s":"PPPL","x":6.93,"y":175},{"s":"PPPL","x":7.04,"y":150},{"s":"PPPL","x":7.1,"y":134},{"s":"PPPL","x":7.26,"y":109.6},{"s":"PPPL","x":7.37,"y":92.5},{"s":"PPPL","x":7.49,"y":85.6},{"s":"PPPL","x":7.64,"y":84.2},{"s":"PPPL","x":7.78,"y":86.6},{"s":"PPPL","x":7.9,"y":83.2},{"s":"PPPL","x":8.04,"y":80.8},{"s":"PPPL","x":8.2,"y":74},{"s":"PPPL","x":8.31,"y":63.7},{"s":"PPPL","x":8.54,"y":55.8},{"s":"PPPL","x":8.67,"y":49},{"s":"PPPL","x":8.83,"y":53.4},{"s":"PPPL","x":8.98,"y":65},{"s":"PPPL","x":9.12,"y":67},{"s":"PPPL","x":9.27,"y":70.5},{"s":"PPPL","x":9.43,"y":77.4},{"s":"PPPL","x":9.56,"y":76.4},{"s":"PPPL","x":9.72,"y":82},{"s":"PPPL","x":9.83,"y":87.7},{"s":"PPPL","x":9.94,"y":85.6},{"s":"PPPL","x":10.06,"y":85.6},{"s":"PPPL","x":10.2,"y":88},{"s":"PPPL","x":10.35,"y":91},{"s":"PPPL","x":10.57,"y":86.6},{"s":"PPPL","x":10.8,"y":75.3},{"s":"PPPL","x":10.9,"y":83.2},{"s":"PPPL","x":11.06,"y":93.5},{"s":"PPPL","x":11.17,"y":94.5},{"s":"PPPL","x":11.28,"y":95},{"s":"PPPL","x":11.4,"y":103.8},{"s":"PPPL","x":11.55,"y":118.5},{"s":"PPPL","x":11.66,"y":103.8},{"s":"PPPL","x":11.77,"y":80.8},{"s":"PPPL","x":11.96,"y":73},{"s":"PPPL","x":12.07,"y":72},{"s":"PPPL","x":12.22,"y":80.8},{"s":"PPPL","x":12.36,"y":87.7},{"s":"PPPL","x":12.51,"y":86.6},{"s":"PPPL","x":12.67,"y":84.2},{"s":"PPPL","x":12.9,"y":85.6},{"s":"PPPL","x":13.03,"y":89},{"s":"PPPL","x":13.25,"y":93.5},{"s":"PPPL","x":13.47,"y":98},{"s":"PPPL","x":13.68,"y":101.4},{"s":"PPPL","x":13.85,"y":99.3},{"s":"PPPL","x":14.01,"y":93.5},{"s":"PPPL","x":14.19,"y":91},{"s":"PPPL","x":14.37,"y":87.7},{"s":"PPPL","x":14.48,"y":83.2},{"s":"PPPL","x":14.64,"y":90},{"s":"PPPL","x":14.82,"y":94.5},{"s":"PPPL","x":14.97,"y":97},{"s":"PPPL","x":15.2,"y":93.5},{"s":"PPPL","x":15.42,"y":104.8},{"s":"PPPL","x":15.58,"y":111.6},{"s":"PPPL","x":15.71,"y":113},{"s":"PPPL","x":15.91,"y":115.7},{"s":"PPPL","x":16.02,"y":106},{"s":"PPPL","x":16.13,"y":99.3},{"s":"PPPL","x":16.25,"y":101.4},{"s":"PPPL","x":16.36,"y":110.6},{"s":"PPPL","x":16.47,"y":99.3},{"s":"PPPL","x":16.6,"y":95.9},{"s":"PPPL","x":16.83,"y":99.3},{"s":"PPPL","x":17.05,"y":104.8},{"s":"PPPL","x":17.27,"y":116.4},{"s":"PPPL","x":17.39,"y":116.8},{"s":"PPPL","x":17.5,"y":111.6},{"s":"PPPL","x":17.65,"y":107.2},{"s":"PPPL","x":17.81,"y":106},{"s":"PPPL","x":17.94,"y":103.8},{"s":"PPPL","x":18.1,"y":101.4},{"s":"PPPL","x":18.26,"y":98},{"s":"PPPL","x":18.48,"y":103.8},{"s":"PPPL","x":18.7,"y":102.7},{"s":"PPPL","x":18.84,"y":100.3},{"s":"PPPL","x":19.04,"y":108.2},{"s":"PPPL","x":19.17,"y":109.6},{"s":"PPPL","x":19.37,"y":107.2},{"s":"PPPL","x":19.5,"y":100.3},{"s":"PPPL","x":19.66,"y":90},{"s":"PPPL","x":19.82,"y":83.2},{"s":"PPPL","x":19.93,"y":84.2},{"s":"PPPL","x":20,"y":85.6}
],
"notes": [
{"x":17.97,"y":222.9,"t":"time"},{"x":17.97,"y":213.4,"t":"averaging"},{"x":17.97,"y":203.1,"t":"window"}
]
},
"encoding": {
  "x": {"type": "quantitative", "scale": {"domain": [0, 20], "nice": false, "zero": false},
        "axis": {"values": [0, 2.5, 5, 7.5, 10, 12.5, 15, 17.5, 20], "format": ".1f", "title": "Time [μs]", "titleFontSize": 34, "titleFont": "Liberation Sans", "titleFontWeight": "normal", "titlePadding": 4, "labelFlush": false, "labelPadding": 0}},
  "y": {"type": "quantitative", "scale": {"domain": [39.7, 230.4], "nice": false, "zero": false},
        "axis": {"values": [50, 75, 100, 125, 150, 175, 200, 225], "title": "Jec1 / JM [%]", "titleFontSize": 27, "titleFont": "DejaVu Serif", "titleFontStyle": "italic", "titleFontWeight": "normal", "titlePadding": 30}}
},
"layer": [
  {
    "data": {"name": "d"},
    "mark": {"type": "line", "strokeWidth": 2.5, "clip": true},
    "encoding": {
      "x": {"field": "x", "type": "quantitative"},
      "y": {"field": "y", "type": "quantitative"},
      "color": {"field": "s", "type": "nominal",
        "scale": {"domain": ["LPP","LAPLACE","CERFACS","RUB","USask","TAMU","PPPL"], "range": ["#0000ff","#008000","#ff0000","#bfbf00","#bf00bf","#00bfbf","#000000"]},
        "legend": {"orient": "none", "legendX": 440, "legendY": 11, "title": null, "labelFont": "Liberation Sans", "labelFontSize": 21, "labelColor": "black", "symbolSize": 144, "symbolStrokeWidth": 2.5, "labelOffset": 42, "rowPadding": 9, "padding": 8, "strokeColor": "#cccccc", "fillColor": "white", "cornerRadius": 4,
          "encode": {"symbols": {"update": {
            "shape": {"signal": "datum.value == 'LPP' ? 'M-1,0L7,0M3.7,0A0.7,0.7,0,1,1,2.3,0A0.7,0.7,0,1,1,3.7,0Z' : datum.value == 'LAPLACE' ? 'M-1,0L7,0M2.3,-0.55L3.7,-0.55L3,0.7Z' : datum.value == 'CERFACS' ? 'M-1,0L7,0M2.3,0.55L3.7,0.55L3,-0.7Z' : datum.value == 'RUB' ? 'M-1,0L7,0M3,-0.8L3.65,0L3,0.8L2.35,0Z' : datum.value == 'USask' ? 'M-1,0L7,0M3,-0.7L3,0.7' : datum.value == 'TAMU' ? 'M-1,0L7,0M2.4,-0.6L3.6,-0.6L3.6,0.6L2.4,0.6Z' : 'M-1,0L7,0M3,-0.45L3,0.45M2.6,-0.25L3.4,0.25M2.6,0.25L3.4,-0.25'"},
            "fill": {"signal": "scale('color', datum.value)"},
            "strokeWidth": {"value": 2.5},
            "opacity": {"value": 1}
          }}}}
      }
    }
  },
  {
    "data": {"name": "d"},
    "mark": {"type": "point", "filled": true, "size": 22, "opacity": 1, "clip": true},
    "encoding": {
      "x": {"field": "x", "type": "quantitative"},
      "y": {"field": "y", "type": "quantitative"},
      "color": {"field": "s", "type": "nominal", "legend": null,
        "scale": {"domain": ["LPP","LAPLACE","CERFACS","RUB","USask","TAMU","PPPL"], "range": ["#0000ff","#008000","#ff0000","#bfbf00","#bf00bf","#00bfbf","#000000"]}},
      "shape": {"field": "s", "type": "nominal", "legend": null,
        "scale": {"domain": ["PPPL","TAMU","USask","RUB","CERFACS","LAPLACE","LPP"], "range": ["cross","square","cross","diamond","triangle-up","triangle-down","circle"]}}
    }
  },
  {
    "data": {"values": [{}]},
    "mark": {"type": "rule", "color": "#a52a2a", "strokeWidth": 2.5, "strokeDash": [8, 5]},
    "encoding": {"x": {"datum": 16}}
  },
  {
    "data": {"values": [{}]},
    "mark": {"type": "rule", "color": "#a52a2a", "strokeWidth": 2},
    "encoding": {"x": {"datum": 16.2}, "x2": {"datum": 19.8}, "y": {"datum": 192.8}}
  },
  {
    "data": {"values": [{}]},
    "mark": {"type": "point", "shape": "triangle-left", "filled": true, "color": "#a52a2a", "size": 460, "opacity": 1},
    "encoding": {"x": {"datum": 16.3}, "y": {"datum": 192.8}}
  },
  {
    "data": {"values": [{}]},
    "mark": {"type": "point", "shape": "triangle-right", "filled": true, "color": "#a52a2a", "size": 460, "opacity": 1},
    "encoding": {"x": {"datum": 19.7}, "y": {"datum": 192.8}}
  },
  {
    "data": {"name": "notes"},
    "mark": {"type": "text", "color": "#a52a2a", "fontSize": 26, "font": "Liberation Sans", "align": "center", "baseline": "middle"},
    "encoding": {"x": {"field": "x", "type": "quantitative"}, "y": {"field": "y", "type": "quantitative"}, "text": {"field": "t"}}
  },
  {
    "data": {"values": [{}]},
    "mark": {"type": "text", "color": "black", "fontSize": 28, "font": "Liberation Sans", "align": "center", "baseline": "middle", "text": "(a)"},
    "encoding": {"x": {"datum": 2.95}, "y": {"datum": 205.8}}
  }
]
}
